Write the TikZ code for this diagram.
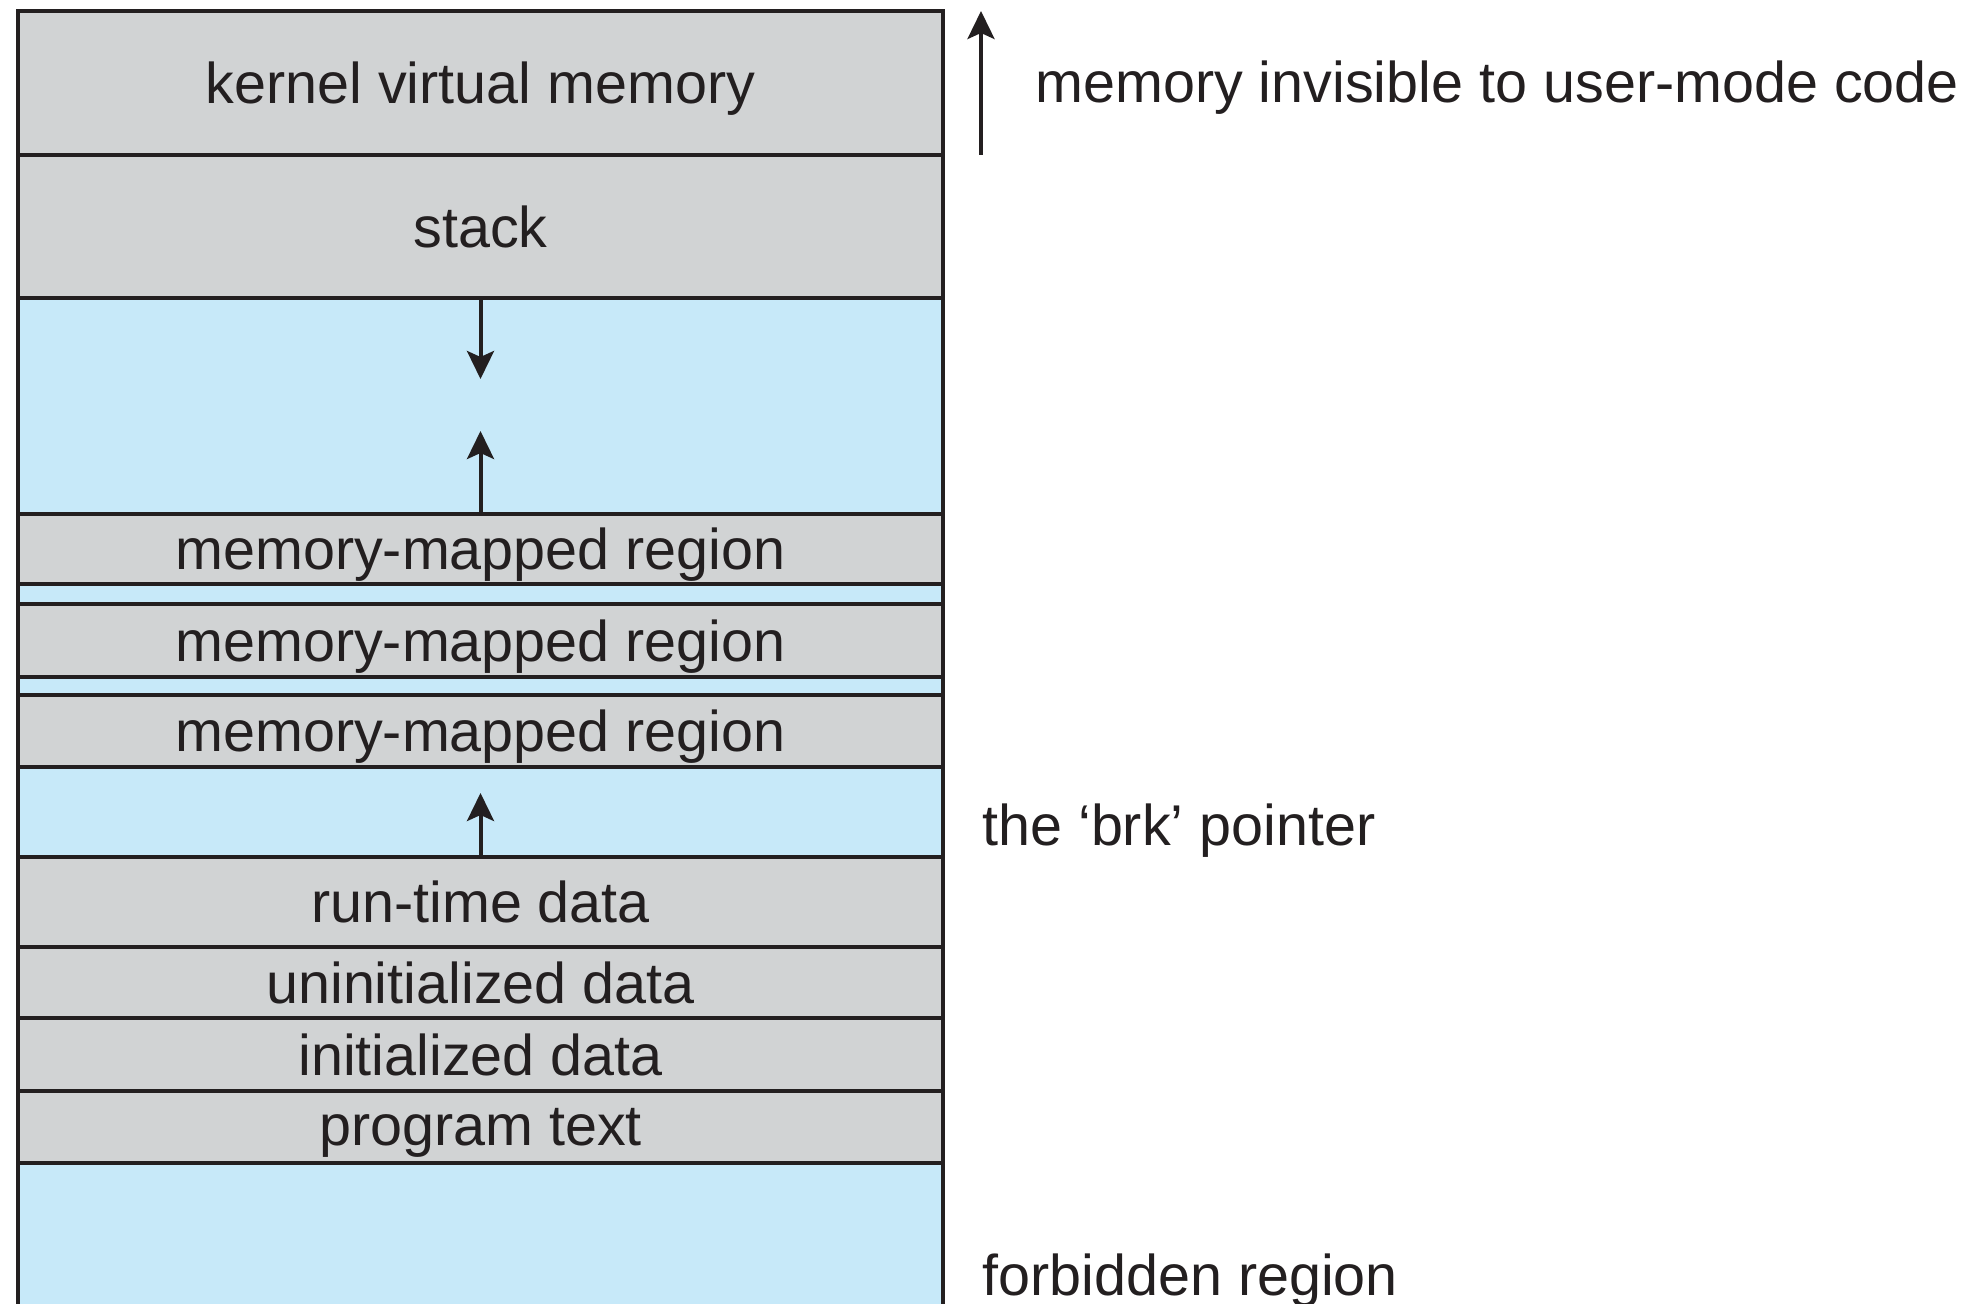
\documentclass[tikz,border=0pt]{standalone}
\usepackage{fontspec}
\setmainfont{Liberation Sans}
\usetikzlibrary{positioning,arrows.meta}
\definecolor{reggray}{RGB}{209,211,212}
\definecolor{regblue}{RGB}{199,233,249}
\definecolor{ink}{RGB}{35,31,32}
\tikzstyle{region} = [draw=ink, line width=1.6pt, rectangle, inner sep=0pt, outer sep=0pt, minimum width=462.5pt, text depth=0pt, text=ink, font=\fontsize{28.75}{34}\selectfont]
\tikzstyle{used} = [region, fill=reggray]
\tikzstyle{free} = [region, fill=regblue]
\tikzstyle{note} = [anchor=base west, inner sep=0pt, text=ink, font=\fontsize{28.75}{34}\selectfont]
\tikzstyle{line} = [draw=ink, line width=2pt, -{Stealth[length=14pt,width=13.5pt,inset=3pt]}]

\begin{document}
\begin{tikzpicture}[x=0.5pt,y=-0.5pt]
	\useasboundingbox (0,0) rectangle (1971,1304);

	\node [used, minimum height=72pt] (kernel) at (480.5,83) {kernel virtual memory};
	\node [used, minimum height=71.5pt, below=0pt of kernel] (stack) {stack};
	\node [free, minimum height=108pt, below=0pt of stack] (heapgap) {};
	\node [used, minimum height=35pt, below=0pt of heapgap] (mmA) {memory-mapped region};
	\node [free, minimum height=10pt, below=0pt of mmA] (gapA) {};
	\node [used, minimum height=36.5pt, below=0pt of gapA] (mmB) {memory-mapped region};
	\node [free, minimum height=9pt, below=0pt of mmB] (gapB) {};
	\node [used, minimum height=36pt, below=0pt of gapB] (mmC) {memory-mapped region};
	\node [free, minimum height=45pt, below=0pt of mmC] (brkgap) {};
	\node [used, minimum height=45pt, below=0pt of brkgap] (runtime) {run-time data};
	\node [used, minimum height=35.5pt, below=0pt of runtime] (bss) {uninitialized data};
	\node [used, minimum height=36.5pt, below=0pt of bss] (data) {initialized data};
	\node [used, minimum height=36pt, below=0pt of data] (text) {program text};
	\node [free, minimum height=90pt, below=0pt of text] (forbid) {};

	\coordinate [below=40.5pt of stack.south] (stackgrow);
	\coordinate [above=41.5pt of mmA.north] (mmgrow);
	\coordinate [above=32pt of runtime.north] (brkgrow);
	\coordinate [right=19pt of kernel.south east] (hidebot);
	\coordinate [right=19pt of kernel.north east] (hidetop);

	\path [line] (stack.south) -- (stackgrow);
	\path [line] (mmA.north) -- (mmgrow);
	\path [line] (runtime.north) -- (brkgrow);
	\path [line] (hidebot) -- (hidetop);

	\node [note] (hidden) at (1035,103) {memory invisible to user-mode code};
	\node [note] (brk) at (982,845) {the `brk' pointer};
	\node [note] (forbidden) at (982,1295) {forbidden region};
\end{tikzpicture}
\end{document}
